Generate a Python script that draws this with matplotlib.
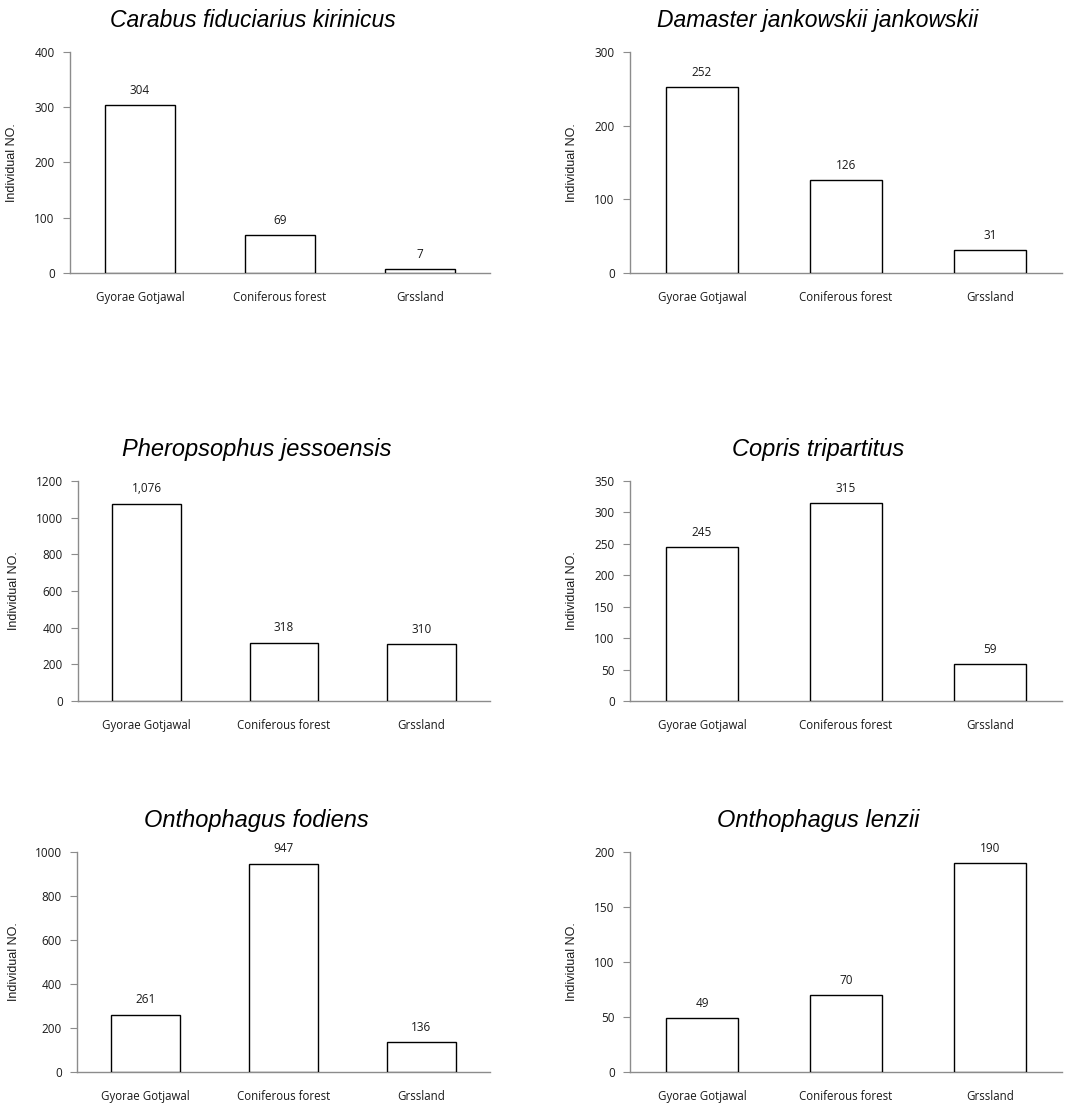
import matplotlib
matplotlib.use("Agg")
import matplotlib.pyplot as plt
from matplotlib.ticker import MultipleLocator

categories = ["Gyorae Gotjawal", "Coniferous forest", "Grssland"]

titles = [
    "Carabus fiduciarius kirinicus",
    "Damaster jankowskii jankowskii",
    "Pheropsophus jessoensis",
    "Copris tripartitus",
    "Onthophagus fodiens",
    "Onthophagus lenzii",
]

carabus = [304, 69, 7]
damaster = [252, 126, 31]
pheropsophus = [1076, 318, 310]
copris = [245, 315, 59]
fodiens = [261, 947, 136]
lenzii = [49, 70, 190]

ymax = [400, 300, 1200, 350, 1000, 200]
ystep = [100, 100, 200, 50, 200, 50]

series = [carabus, damaster, pheropsophus, copris, fodiens, lenzii]

W, H = 1065, 1104
fig = plt.figure(figsize=(W / 100, H / 100), dpi=100)

# axes boxes in pixels: left, top, right, bottom
boxes = [
    (70, 52, 490, 273),
    (630, 52, 1062, 273),
    (78, 481, 490, 701),
    (630, 481, 1062, 701),
    (77, 852, 490, 1072),
    (630, 852, 1062, 1072),
]
ylabel_x = [18, 578, 20, 578, 20, 578]

axis_color = "#8c8c8c"
tick_font = "Open Sans"

for i, (vals, title) in enumerate(zip(series, titles)):
    l, t, r, b = boxes[i]
    ax = fig.add_axes([l / W, 1 - b / H, (r - l) / W, (b - t) / H])
    x = list(range(len(categories)))
    bars = ax.bar(x, vals, width=0.5, color="white", edgecolor="black", linewidth=1.0, zorder=3)
    ax.set_xlim(-0.5, 2.5)
    ax.set_ylim(0, ymax[i])
    ax.yaxis.set_major_locator(MultipleLocator(ystep[i]))
    ax.set_xticks(x)
    ax.set_xticklabels(categories, fontsize=8.3, family=tick_font, color="#1a1a1a")
    for lab in ax.get_yticklabels():
        lab.set_fontfamily(tick_font)
    ax.tick_params(axis="y", labelsize=8.5, colors=axis_color, labelcolor="#1a1a1a", length=5, width=0.8, direction="out", pad=6)
    ax.tick_params(axis="x", length=0, pad=13)
    for s in ["top", "right"]:
        ax.spines[s].set_visible(False)
    for s in ["left", "bottom"]:
        ax.spines[s].set_color(axis_color)
        ax.spines[s].set_linewidth(1.0)
    for rect, v in zip(bars, vals):
        ax.annotate(f"{v:,}", (rect.get_x() + rect.get_width() / 2, v),
                    xytext=(0, 6), textcoords="offset points", ha="center", va="bottom",
                    fontsize=8.5, family=tick_font, color="#1a1a1a")
    ax.set_ylabel("Individual NO.", fontsize=9, family="Liberation Sans", color="#1a1a1a")
    ax.yaxis.set_label_coords((ylabel_x[i] - l) / (r - l), 0.5)
    ax.set_title(title, fontsize=16.5 if i < 2 else 17, style="italic",
                 family="Liberation Sans", x=0.435, pad=18, color="black")

fig.savefig("out.png", dpi=100, facecolor="white")
